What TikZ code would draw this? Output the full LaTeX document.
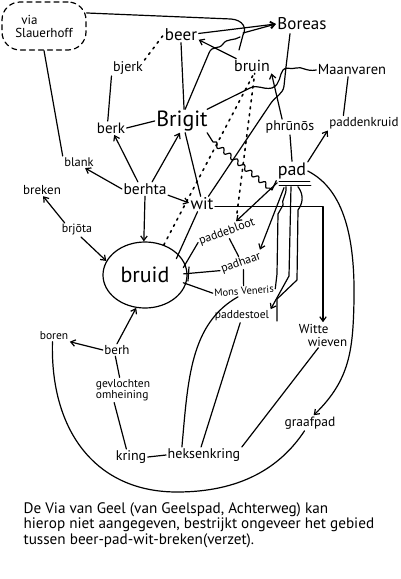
\documentclass[tikz,border=0pt]{standalone}
\usepackage{fontspec}
\setmainfont{PT Sans}
\usetikzlibrary{arrows.meta,decorations.pathmorphing,shapes.geometric,calc}
\begin{document}
\begin{tikzpicture}[x=1pt,y=-1pt,line width=1.2pt,line cap=round,line join=round,
  lbl/.style={inner sep=1pt,font=\fontsize{#1}{#1}\selectfont},
  arr/.style={-{Straight Barb[length=4.5pt,width=6.5pt]}},
  dots/.style={line width=1.6pt,dash pattern=on 2pt off 5pt},
  wavy/.style={decorate,decoration={snake,amplitude=2.2pt,segment length=9pt}}]
\useasboundingbox (0,0) rectangle (400,579);
\fill[white] (0,0) rectangle (400,579);

% nodes
\node[draw,dashed,dash pattern=on 5pt off 4pt,rounded corners=18pt,minimum width=84pt,minimum height=48pt,align=left,lbl=13] (slauer) at (44,26) {\hspace*{6pt}via\\Slauerhoff};
\node[lbl=17] (beer) at (181,35) {beer};
\node[lbl=17] (boreas) at (302,24) {Boreas};
\node[lbl=14] (bjerk) at (128,68) {bjerk};
\node[lbl=16] (bruin) at (252,66) {bruin};
\node[lbl=14.5] (maan) at (352,70) {Maanvaren};
\node[lbl=15] (berk) at (111,128) {berk};
\node[lbl=22] (brigit) at (182,121) {Brigit};
\node[lbl=14] (phrunos) at (290,127) {phrūnōs};
\node[lbl=13] (kruid) at (364,123) {paddenkruid};
\node[lbl=18] (pad) at (292,171) {pad};
\node[lbl=12.5] (blank) at (79,162) {blank};
\node[lbl=15.5] (berhta) at (145,189) {berhta};
\node[lbl=13] (breken) at (42,190) {breken};
\node[lbl=17] (wit) at (202,204) {wit};
\node[lbl=12] (brjota) at (77,230) {brjōta};
\node[lbl=12,rotate=20] (bloot) at (227,232) {paddebloot};
\node[lbl=12,rotate=20] (haar) at (241,263) {padhaar};
\node[draw,ellipse,minimum width=84pt,minimum height=66pt,inner sep=0pt,lbl=22] (bruid) at (145,275) {bruid};
\node[lbl=10.5,rotate=4] (mons) at (244,291) {Mons Veneris};
\node[lbl=11.5] (stoel) at (242,316) {paddestoel};
\node[lbl=11.5] (boren) at (54,336) {boren};
\node[lbl=13] (berh) at (117,350) {berh};
\node[lbl=11.5,align=left] (gevl) at (123,390) {gevlochten\\omheining};
\node[lbl=13,align=left] (witte) at (323,335) {Witte\\\hspace*{9pt}wieven};
\node[lbl=13.5] (graaf) at (310,423) {graafpad};
\node[lbl=14] (kring) at (131,457) {kring};
\node[lbl=14] (heks) at (204,455) {heksenkring};
\node[inner sep=1pt,anchor=north west,align=left,font=\fontsize{15.2}{15.5}\selectfont] (note) at (22,501)
  {De Via van Geel (van Geelspad, Achterweg) kan\\hierop niet aangegeven, bestrijkt ongeveer het gebied\\tussen beer-pad-wit-breken(verzet).};

\coordinate (jb) at (243,33);
\coordinate (d2) at (237,213);
\coordinate (cend) at (277,321);

% top area
\draw (slauer.17) -- (231,19) .. controls (243,20) and (247,28) .. (243,35) -- (239,50);
\draw[arr] (jb) -- (boreas.west);
\draw[arr] (beer.5) -- (boreas.west);
\draw (brigit.75) -- (209,53) .. controls (212,45) and (219,50) .. (223,44) .. controls (227,38) and (234,41) .. (240,37);
\draw[arr] (bruin.155) -- (beer.-15);
\draw[dots] (bjerk.north east) -- (beer.west);
\draw (slauer.-90) -- (blank.north west);
\draw (bjerk.south west) -- (berk.115);
\draw (berk.east) -- (brigit.west);
\draw (beer.south) -- (brigit.80);
\draw ($(boreas.south)+(-12,2)$) -- (286,67) -- (284,86) .. controls (283,94) and (276,96) .. (271,103) -- (wit.50);
\draw (maan.west) .. controls (306,72) and (302,66) .. (296,68) .. controls (290,70) and (286,66) .. (283,70) .. controls (279,75) and (281,84) .. (272,88) .. controls (262,90) and (258,84) .. (250,88) -- (brigit.25);
\draw[arr] (phrunos.135) -- (bruin.south east);
\draw[dots] (bruid.58) -- (bruin.-75);
\draw[dots] (d2) -- (bruin.-70);
\draw (maan.-120) -- (kruid.160);
\draw (phrunos.south) -- (pad.north);
\draw[arr] (pad.30) -- (kruid.south west);

% Brigit / berhta
\draw (brigit.-25) -- (213,142) decorate[wavy] {-- (272,190)} -- (pad.south west);
\draw (brigit.-75) -- (wit.100);
\draw[arr] (berhta.west) -- (blank.-45);
\draw[arr] (berhta.135) -- (berk.-65);
\draw[arr] (berhta.45) -- (brigit.-100);
\draw[arr] (berhta.-15) -- (wit.175);
\draw[arr] (berhta.-90) -- (bruid.92);
\draw[arr] (brjota.150) -- (breken.-80);
\draw[arr] (brjota.-60) -- (bruid.160);

% around bruid
\draw[shorten >=-5pt] (wit.-120) -- (bruid.32);
\draw[shorten >=-4pt] (bloot.west) -- (bruid.15);
\draw[shorten >=-4pt] (haar.west) -- (bruid.2);
\draw (189,267) -- (188,281);
\draw[shorten >=-3pt] (mons.west) -- (bruid.-12);
\draw (bloot.south) -- (haar.north);
\draw (haar.south) -- (mons.north);

% pad
\draw ($(pad.south west)+(3,1)$) -- ($(pad.south east)+(2,1)$);
\draw ($(pad.south west)+(3,5)$) -- ($(pad.south east)+(3,5)$);
\draw[arr] ($(pad.south west)+(1,2)$) -- (bloot.30);
\draw[arr] ($(pad.south)+(-8,7)$) -- (haar.15);
\draw ($(pad.south)+(-6,6)$) .. controls (287,195) and (281,200) .. (283,205) -- (278,214) -- (277,274) -- (mons.east);
\draw[arr] ($(pad.south)+(-1,6)$) -- (289,276) -- (stoel.north east);
\draw ($(pad.south)+(6,6)$) .. controls (304,195) and (303,203) .. (298,210) -- (297,280) -- (277,299) -- (cend);
\draw[arr] (wit.-10) -| (witte.north);
\draw[arr] (pad.east) .. controls (345,190) and (355,240) .. (354,300) .. controls (353,350) and (350,380) .. (graaf.65);

% bottom
\draw[arr] (berh.west) -- (boren.south east);
\draw[arr] (berh.north) -- (bruid.-105);
\draw (berh.-105) -- (gevl.105);
\draw (gevl.-125) -- (kring.120);
\draw (kring.east) -- (heks.west);
\draw (heks.160) .. controls (188,380) and (190,324) .. (mons.220);
\draw (heks.110) -- (stoel.-105);
\draw (heks.north east) -- (witte.-110);
\draw (boren.-105) .. controls (50,430) and (95,492) .. (177,492) .. controls (240,492) and (280,468) .. (graaf.-125);
\end{tikzpicture}
\end{document}
